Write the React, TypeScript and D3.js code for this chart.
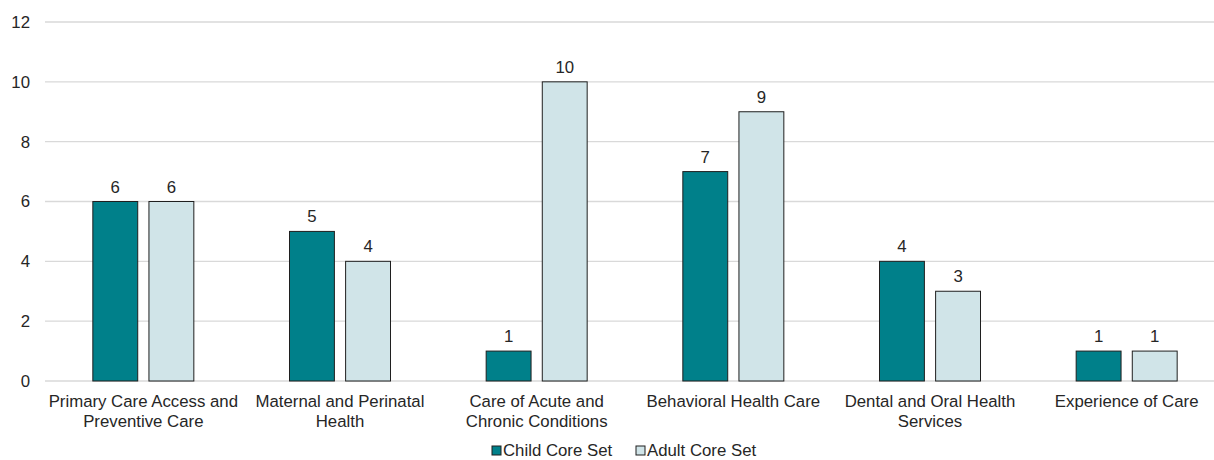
import React from "react";
import * as d3 from "d3";

const categories = [
  ["Primary Care Access and", "Preventive Care"],
  ["Maternal and Perinatal", "Health"],
  ["Care of Acute and", "Chronic Conditions"],
  ["Behavioral Health Care"],
  ["Dental and Oral Health", "Services"],
  ["Experience of Care"],
];
const childValues = [6, 5, 1, 7, 4, 1];
const adultValues = [6, 4, 10, 9, 3, 1];
const seriesNames = ["Child Core Set", "Adult Core Set"];
const yTicks = [0, 2, 4, 6, 8, 10, 12];

const colors = ["#00808A", "#D0E4E8"];

const App = () => {
  const width = 1214,
    height = 460;
  const margin = { top: 22, right: -11, bottom: 79, left: 45 };

  const x0 = d3
    .scaleBand()
    .domain(categories.map((c, i) => String(i)))
    .range([margin.left, width - margin.right])
    .paddingInner(0)
    .paddingOuter(0);

  const inner = d3.scaleBand().domain(seriesNames).range([-50.5, 50.5]).paddingInner(0.2);

  const y = d3.scaleLinear().domain([0, 12]).range([height - margin.bottom, margin.top]);

  const data = categories.map((c, i) => ({
    key: String(i),
    label: c,
    values: [childValues[i], adultValues[i]],
  }));

  const font = "'Liberation Sans', Arial, sans-serif";
  const fs = 16.8;

  return (
    <svg
      width={width}
      height={height}
      style={{ position: "absolute", left: 0, top: 0 }}
      fontFamily={font}
    >
      <rect width={width} height={height} fill="#fff" />
      {yTicks.map((t) => (
        <g key={t}>
          <line x1={margin.left} x2={width} y1={y(t)} y2={y(t)} stroke="#D9D9D9" strokeWidth={1.3} />
          <text x={30} y={y(t)} dy="0.35em" textAnchor="end" fontSize={fs} fill="#262626">
            {t}
          </text>
        </g>
      ))}
      {data.map((d) => {
        const cx = (x0(d.key) as number) + x0.bandwidth() / 2;
        return (
          <g key={d.key}>
            {d.values.map((v, j) => {
              const bx = cx + (inner(seriesNames[j]) as number);
              return (
                <g key={j}>
                  <rect
                    x={bx}
                    y={y(v)}
                    width={inner.bandwidth()}
                    height={y(0) - y(v)}
                    fill={colors[j]}
                    stroke="#1f1f1f"
                    strokeWidth={1}
                  />
                  <text
                    x={bx + inner.bandwidth() / 2}
                    y={y(v) - 9}
                    textAnchor="middle"
                    fontSize={fs}
                    fill="#262626"
                  >
                    {v}
                  </text>
                </g>
              );
            })}
            {d.label.map((l, k) => (
              <text key={k} x={cx} y={407 + k * 20} textAnchor="middle" fontSize={fs} fill="#262626">
                {l}
              </text>
            ))}
          </g>
        );
      })}
      {seriesNames.map((s, i) => {
        const lx = [492, 636][i];
        return (
          <g key={s}>
            <rect x={lx} y={446} width={9} height={9} fill={colors[i]} stroke="#1f1f1f" strokeWidth={1} />
            <text x={lx + 11} y={456} fontSize={fs} fill="#262626">
              {s}
            </text>
          </g>
        );
      })}
    </svg>
  );
};

export default App;
